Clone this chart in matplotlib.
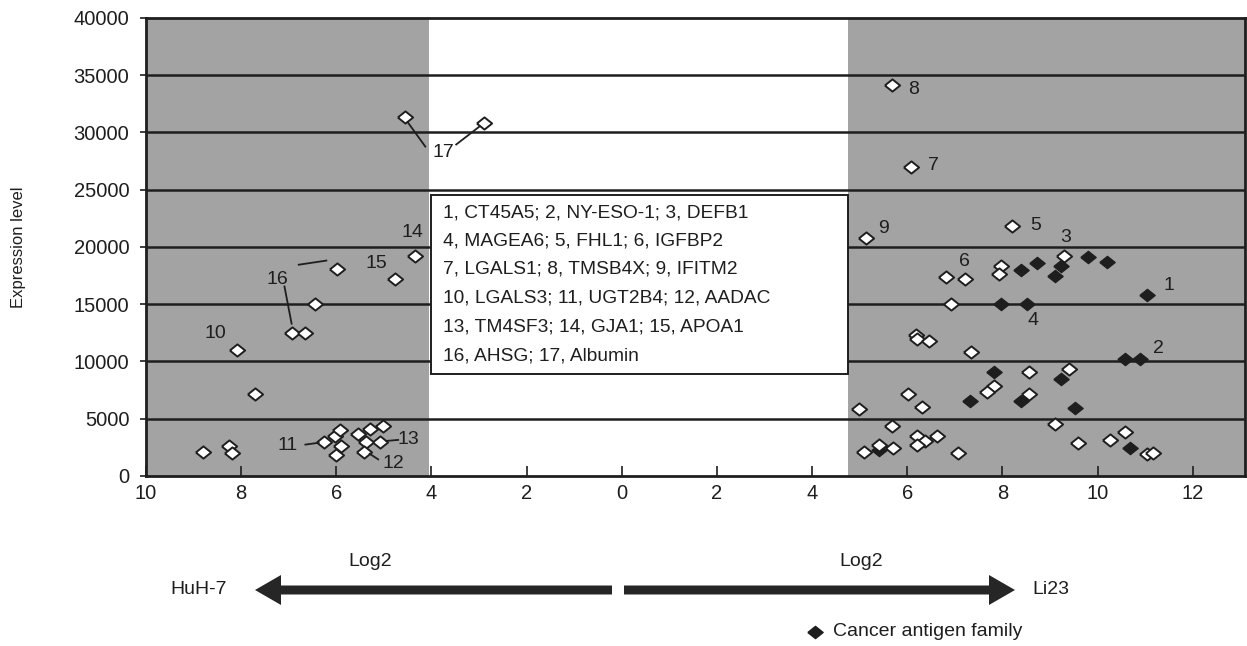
import matplotlib
matplotlib.use("Agg")
import matplotlib.pyplot as plt
from matplotlib.patches import Rectangle
import numpy as np

plt.rcParams['font.family'] = ['Liberation Sans', 'DejaVu Sans']

# HuH-7 side is stored as negative log2, Li23 side positive
huh7_x = [-4.56, -2.90, -4.35, -4.77, -5.99, -6.45, -6.93, -6.66, -8.09, -7.71,
          -8.80, -8.26, -8.19, -6.25, -6.03, -5.92, -5.90, -6.01, -5.55, -5.30,
          -5.02, -5.38, -5.08, -5.42]
huh7_y = [31310, 30820, 19180, 17180, 18090, 15000, 12450, 12450, 11040, 7200,
          2100, 2660, 2020, 2980, 3470, 4030, 2660, 1850, 3630, 4110,
          4350, 2980, 2980, 2100]

li23_x = [5.69, 6.07, 5.13, 8.21, 9.29, 6.81, 7.21, 7.98, 7.92, 6.91,
          6.18, 6.20, 6.45, 7.35, 7.82, 7.67, 8.57, 9.41, 8.57, 4.98,
          6.01, 6.32, 5.69, 5.10, 5.40, 5.71, 6.20, 6.37, 6.20, 6.62,
          7.06, 9.10, 9.58, 10.27, 10.57, 11.05, 11.16]
li23_y = [34180, 27020, 20790, 21840, 19200, 17410, 17230, 18300, 17680, 15000,
          12300, 12000, 11830, 10870, 7880, 7290, 9070, 9320, 7200, 5850,
          7200, 6000, 4340, 2130, 2700, 2460, 3520, 3030, 2700, 3520,
          1970, 4520, 2900, 3150, 3870, 1940, 2020]

# cancer antigen family
cta_x = [11.05, 10.57, 10.90, 7.98, 8.51, 8.40, 8.72, 9.81, 10.19, 9.24,
         9.10, 7.82, 9.24, 7.33, 8.40, 9.52, 5.40, 10.69]
cta_y = [15800, 10190, 10190, 15000, 15000, 18000, 18640, 19090, 18730, 18360,
         17450, 9070, 8470, 6530, 6530, 5930, 2260, 2420]

# numbered labels: text, position, optional leader line
lab_text = ['8', '7', '9', '5', '3', '6', '4', '1', '2',
            '17', '14', '15', '16', '10', '11', '13', '12']
lab_x = [6.14, 6.56, 5.51, 8.70, 9.33, 7.21, 8.64, 11.51, 11.28,
         -3.75, -4.40, -5.16, -7.23, -8.55, -7.02, -4.49, -4.80]
lab_y = [33770, 27100, 21580, 21840, 20790, 18750, 13550, 16640, 11130,
         28250, 21230, 18540, 17180, 12450, 2660, 3150, 1050]

leaders = [((-4.50, -4.13), (30900, 28770)),
           ((-3.48, -3.00), (28950, 30490)),
           ((-6.79, -6.21), (18450, 18810)),
           ((-7.09, -6.94), (16550, 13300)),
           ((-6.65, -6.37), (2740, 2900)),
           ((-4.95, -4.70), (3060, 3150)),
           ((-5.30, -5.12), (1940, 1450))]

key_lines = ['1, CT45A5; 2, NY-ESO-1; 3, DEFB1',
             '4, MAGEA6; 5, FHL1; 6, IGFBP2',
             '7, LGALS1; 8, TMSB4X; 9, IFITM2',
             '10, LGALS3; 11, UGT2B4; 12, AADAC',
             '13, TM4SF3; 14, GJA1; 15, APOA1',
             '16, AHSG; 17, Albumin']

xticks = [-10, -8, -6, -4, -2, 0, 2, 4, 6, 8, 10, 12]
xticklabels = [str(abs(t)) for t in xticks]
yticks = [0, 5000, 10000, 15000, 20000, 25000, 30000, 35000, 40000]

dark = '#1e1e1e'
gray = '#a3a3a3'
diamond = [(-1, 0), (0, 0.8), (1, 0), (0, -0.8), (-1, 0)]

fig = plt.figure(figsize=(12.47, 6.46), dpi=100)
ax = fig.add_axes([0.1171, 0.2632, 0.8813, 0.709])
ax.set_xlim(-10, 13.1)
ax.set_ylim(0, 40000)

# shaded zones
ax.axvspan(-10, -4.05, color=gray, zorder=0, lw=0)
ax.axvspan(4.75, 13.1, color=gray, zorder=0, lw=0)
for yv in yticks[1:-1]:
    ax.axhline(yv, color=dark, lw=1.8, zorder=1)

# key box
ax.add_patch(Rectangle((-4.0, 8870), 8.76, 24560 - 8870, facecolor='white',
                       edgecolor=dark, lw=1.4, zorder=2))
key_y = [22980, 20520, 18050, 15550, 13020, 10470]
for t, yy in zip(key_lines, key_y):
    ax.text(-3.75, yy, t, fontsize=13.8, color=dark, va='center', ha='left', zorder=3)

ax.plot(cta_x, cta_y, ls='none', marker=diamond, ms=11, mfc=dark, mec=dark,
        mew=1, zorder=4)
ax.plot(huh7_x + li23_x, huh7_y + li23_y, ls='none', marker=diamond, ms=11,
        mfc='white', mec=dark, mew=1.4, zorder=5)

for t, xx, yy in zip(lab_text, lab_x, lab_y):
    ax.text(xx, yy, t, fontsize=14, color=dark, ha='center', va='center', zorder=6)
for lx, ly in leaders:
    ax.plot(lx, ly, color=dark, lw=1.3, zorder=6)

ax.set_xticks(xticks)
ax.set_xticklabels(xticklabels, fontsize=14.5, color=dark)
ax.set_yticks(yticks)
ax.set_yticklabels([str(v) for v in yticks], fontsize=14.5, color=dark)
ax.tick_params(axis='x', direction='in', length=7, width=1.2, pad=6, colors=dark)
ax.tick_params(axis='y', direction='out', length=4, width=1.2, pad=8, colors=dark)
for s in ax.spines.values():
    s.set_color(dark)
    s.set_linewidth(2)
ax.set_ylabel('Expression level', fontsize=12, color=dark, labelpad=34)

# overlay in pixel units for arrows and legend
ov = fig.add_axes([0, 0, 1, 1], facecolor='none')
ov.set_xlim(0, 1247)
ov.set_ylim(646, 0)
ov.axis('off')
ov.arrow(612, 590, 255 - 612, 0, width=9, head_width=30, head_length=26,
         length_includes_head=True, color='#262626', lw=0)
ov.arrow(624, 590, 1015 - 624, 0, width=9, head_width=30, head_length=26,
         length_includes_head=True, color='#262626', lw=0)
ov.text(199, 590, 'HuH-7', fontsize=14, ha='center', va='center', color=dark)
ov.text(370, 562, 'Log2', fontsize=14, ha='center', va='center', color=dark)
ov.text(861, 562, 'Log2', fontsize=14, ha='center', va='center', color=dark)
ov.text(1032, 590, 'Li23', fontsize=14, ha='left', va='center', color=dark)
ov.plot([815], [632], ls='none', marker=diamond, ms=11, mfc=dark, mec=dark)
ov.text(833, 632, 'Cancer antigen family', fontsize=14, ha='left', va='center',
        color=dark)

fig.savefig('out.png', dpi=100)
